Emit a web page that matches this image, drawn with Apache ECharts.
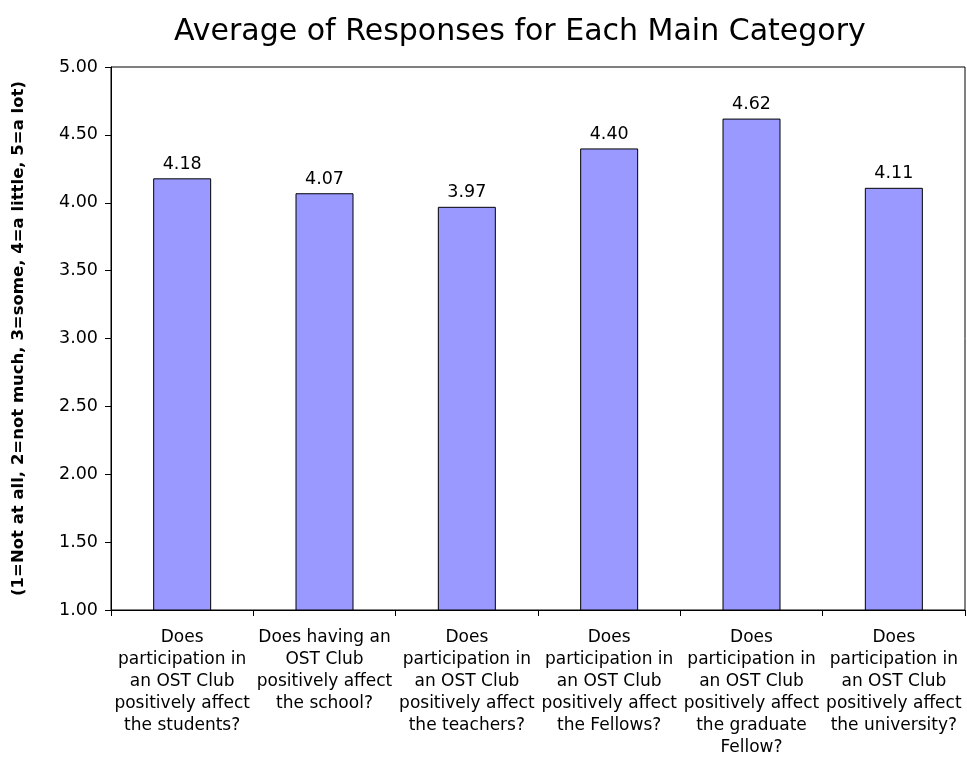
<!DOCTYPE html>
<html>
<head>
<meta charset="utf-8">
<script src="https://cdn.jsdelivr.net/npm/echarts@6/dist/echarts.min.js"></script>
<style>
html, body { margin: 0; padding: 0; background: #fff; }
#chart { width: 967px; height: 759px; }
</style>
</head>
<body>
<div id="chart"></div>
<script>
// Survey question categories (line breaks as displayed under the axis)
const categories = [
  "Does\nparticipation in\nan OST Club\npositively affect\nthe students?",
  "Does having an\nOST Club\npositively affect\nthe school?",
  "Does\nparticipation in\nan OST Club\npositively affect\nthe teachers?",
  "Does\nparticipation in\nan OST Club\npositively affect\nthe Fellows?",
  "Does\nparticipation in\nan OST Club\npositively affect\nthe graduate\nFellow?",
  "Does\nparticipation in\nan OST Club\npositively affect\nthe university?"
];
// Average response per category
const averages = [4.18, 4.07, 3.97, 4.40, 4.62, 4.11];
// Value axis range
const yMin = 1.0;
const yMax = 5.0;
const yStep = 0.5;

const font = "'DejaVu Sans', Verdana, sans-serif";
const chart = echarts.init(document.getElementById('chart'));
chart.setOption({
  animation: false,
  backgroundColor: '#ffffff',
  title: {
    text: 'Average of Responses for Each Main Category',
    left: 169,
    top: 12,
    textStyle: { fontFamily: font, fontSize: 30, fontWeight: 'normal', color: '#000' }
  },
  grid: { left: 111, right: 2, top: 67, bottom: 149, show: true, borderColor: '#000', borderWidth: 1 },
  xAxis: {
    type: 'category',
    data: categories,
    axisLine: { lineStyle: { color: '#000', width: 1 } },
    axisTick: { show: true, alignWithLabel: false, length: 6, lineStyle: { color: '#000' } },
    axisLabel: {
      interval: 0, color: '#000', fontFamily: font, fontSize: 17, lineHeight: 22,
      margin: 17, align: 'center'
    },
    splitLine: { show: false }
  },
  yAxis: {
    type: 'value',
    min: yMin, max: yMax, interval: yStep,
    name: '(1=Not at all, 2=not much, 3=some, 4=a little, 5=a lot)',
    nameLocation: 'middle',
    nameGap: 84,
    nameTextStyle: { fontFamily: font, fontSize: 16.5, fontWeight: 'bold', color: '#000' },
    axisLine: { show: true, lineStyle: { color: '#000', width: 1 } },
    axisTick: { show: true, length: 6, lineStyle: { color: '#000' } },
    axisLabel: {
      color: '#000', fontFamily: font, fontSize: 17.5, margin: 13,
      formatter: v => v.toFixed(2)
    },
    splitLine: { show: false }
  },
  series: [{
    type: 'bar',
    data: averages,
    barWidth: 58,
    itemStyle: { color: '#9999ff', borderColor: '#000', borderWidth: 1 },
    label: {
      show: true, position: 'top', distance: 5,
      color: '#000', fontFamily: font, fontSize: 17.5,
      formatter: p => p.value.toFixed(2)
    }
  }]
});
</script>
</body>
</html>
